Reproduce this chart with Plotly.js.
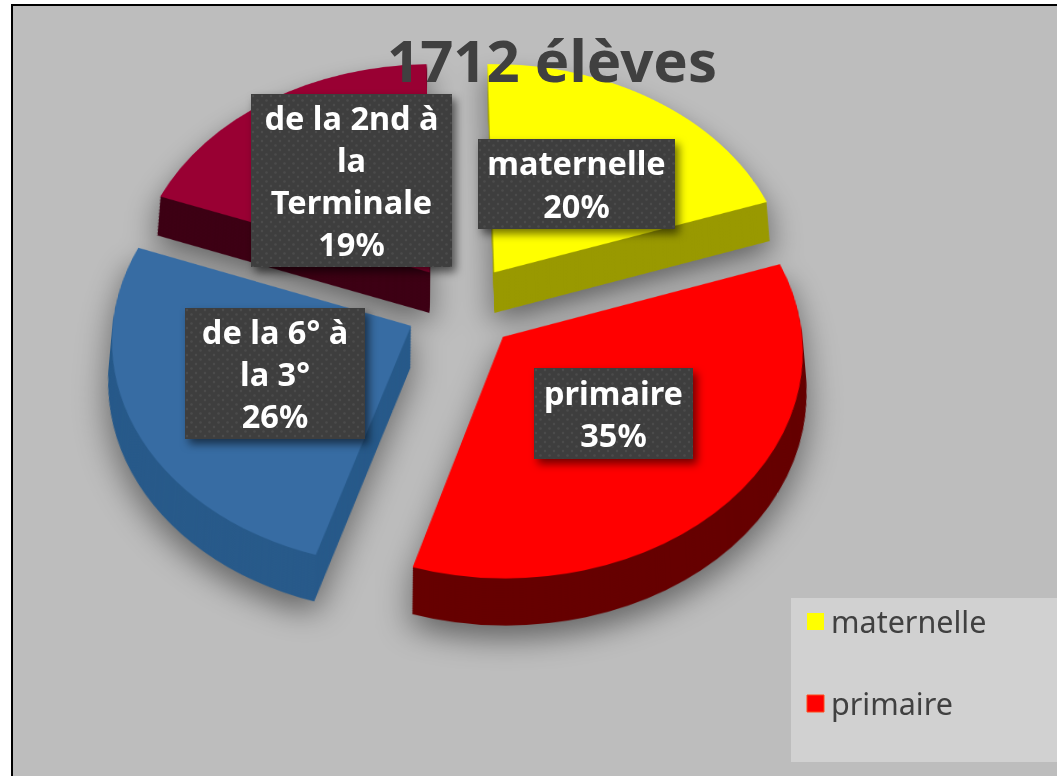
<!DOCTYPE html>
<html><head><meta charset="utf-8">
<script src="https://cdn.plot.ly/plotly-3.0.1.min.js"></script>
<style>html,body{margin:0;padding:0;background:#fff;overflow:hidden}
#frame{position:absolute;left:11px;top:4px;width:1100px;height:840px;background:#bdbdbd;border:2px solid #000}
#c{position:absolute;left:0;top:0;width:1057px;height:776px}
.pielayer{filter:drop-shadow(0 16px 16px rgba(0,0,0,.45))}
.annotation rect.bg{filter:drop-shadow(4px 5px 4px rgba(0,0,0,.55))}</style>
</head><body><div id="frame"></div><div id="c"></div>
<script>
const categories = ['maternelle','primaire','de la 6° à la 3°','de la 2nd à la Terminale'];
const values = [20,35,26,19];
const topColors = ['#ffff00','#ff0000','#376ca3','#990033'];
const sideColors = ['#999900','#660000','#285a8a','#3d0014'];
const labelLines = [['maternelle'],['primaire'],['de la 6° à','la 3°'],['de la 2nd à','la','Terminale']];
const legendItems = ['maternelle','primaire'];
const chartTitle = '1712 élèves';

const W=1057,H=776, FONT='"Noto Sans","DejaVu Sans",sans-serif';
const X=p=>p/W, Y=p=>1-p/H;
const R=297, PULL=.19, SIZE=2*R*(1+PULL), TILT=41, PERSP=3400, DEPTH=54, STEP=2;
const CX=462, CY=307;

const traces=[];
for(let d=DEPTH;d>=0;d-=STEP){
  traces.push({type:'pie',values:values,labels:categories,sort:false,direction:'clockwise',rotation:-1,
    pull:values.map(()=>PULL),textinfo:'none',hoverinfo:'label+percent',showlegend:false,
    marker:{colors:d===0?topColors:sideColors,line:{width:0}},
    domain:{x:[X(CX-SIZE/2),X(CX+SIZE/2)],y:[Y(SIZE+d),Y(d)]}});
}

const boxes=[[478,139,197,90],[534,368,159,91],[185,308,180,131],[251,94,201,173]];
const annotations=[];
boxes.forEach((b,i)=>{
  annotations.push({xref:'paper',yref:'paper',xanchor:'center',yanchor:'middle',showarrow:false,width:b[2],height:b[3],borderpad:0,borderwidth:0,
    x:X(b[0]+b[2]/2),y:Y(b[1]+b[3]/2),bgcolor:'#3e3e3e',valign:'middle',align:'center',
    font:{family:FONT,size:32.5,color:'#ffffff'},
    text:labelLines[i].concat([values[i]+'%']).map(s=>'<b>'+s+'</b>').join('<br>')});
});
legendItems.forEach((t,i)=>{
  annotations.push({xref:'paper',yref:'paper',x:X(829),y:Y(621+82*i),xanchor:'left',yanchor:'middle',showarrow:false,text:t,
    font:{family:FONT,size:30.5,color:'#404040'}});
});
const shapes=[
 {type:'rect',xref:'paper',yref:'paper',x0:X(791),x1:1.01,y0:Y(762),y1:Y(598),fillcolor:'#d1d1d1',line:{width:0},layer:'above'}
];
legendItems.forEach((t,i)=>{
  shapes.push({type:'rect',xref:'paper',yref:'paper',x0:X(807),x1:X(824),y0:Y(630+82*i),y1:Y(613+82*i),fillcolor:topColors[i],line:{width:i===1?1:0,color:'#ff4a1a'},layer:'above'});
});
const layout={width:W,height:H,margin:{l:0,r:0,t:0,b:0},paper_bgcolor:'rgba(0,0,0,0)',plot_bgcolor:'rgba(0,0,0,0)',showlegend:false,
  title:{text:'<b>'+chartTitle+'</b>',x:X(552),y:Y(62),xref:'paper',yref:'paper',xanchor:'center',yanchor:'middle',pad:{t:0,b:0,l:0,r:0},
    font:{family:FONT,size:58,color:'#404040'}},
  shapes:shapes,annotations:annotations};
Plotly.newPlot('c',traces,layout,{displayModeBar:false,staticPlot:true}).then(()=>{
  const s=document.querySelector('.pielayer').ownerSVGElement;
  s.style.transformOrigin=CX+'px '+(SIZE/2)+'px';
  s.style.transform='translateY('+(CY-SIZE/2)+'px) perspective('+PERSP+'px) rotateX('+TILT+'deg)';
  s.style.overflow='visible';
  // dotted texture of the label boxes
  const NS='http://www.w3.org/2000/svg';
  const top=document.querySelector('.infolayer').ownerSVGElement;
  const defs=document.createElementNS(NS,'defs');
  const pat=document.createElementNS(NS,'pattern');
  pat.setAttribute('id','dots');pat.setAttribute('patternUnits','userSpaceOnUse');
  pat.setAttribute('width','9');pat.setAttribute('height','9');
  const bg=document.createElementNS(NS,'rect');
  bg.setAttribute('width','9');bg.setAttribute('height','9');bg.setAttribute('fill','#3e3e3e');pat.appendChild(bg);
  [[2,2],[6.5,6.5]].forEach(p=>{const c=document.createElementNS(NS,'circle');
    c.setAttribute('cx',p[0]);c.setAttribute('cy',p[1]);c.setAttribute('r','1.2');c.setAttribute('fill','#4b4b4b');pat.appendChild(c);});
  defs.appendChild(pat);top.insertBefore(defs,top.firstChild);
  document.querySelectorAll('.annotation rect.bg').forEach(r=>{
    if(+r.getAttribute('width')>100 && +r.getAttribute('height')>80) r.style.setProperty('fill','url(#dots)');
  });
});
</script></body></html>
